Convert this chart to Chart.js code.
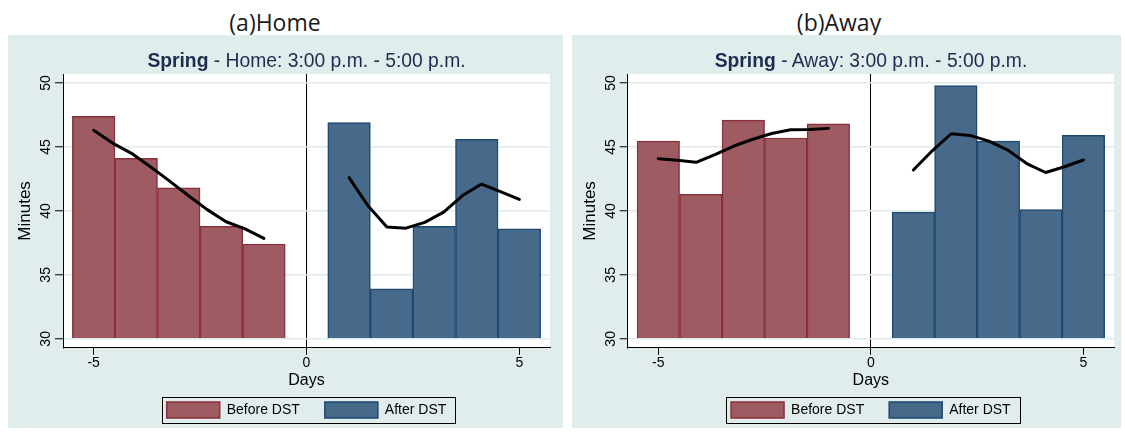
<!DOCTYPE html>
<html><head><meta charset="utf-8">
<script src="https://cdn.jsdelivr.net/npm/chart.js@4/dist/chart.umd.min.js"></script>
<style>
body{margin:0;background:#fff;width:1125px;height:436px;position:relative;overflow:hidden;font-family:"Liberation Sans",Arial,sans-serif}
.panel{position:absolute;top:35px;height:393px;background:#e1eded}
.cap{position:absolute;top:6px;width:200px;text-align:center;font-family:"Open Sans",sans-serif;font-size:23px;line-height:32px;color:#1a1a1a}
.sub{position:absolute;top:49px;width:400px;text-align:center;font-size:19.3px;line-height:24px;color:#1c2d4f;white-space:nowrap}
canvas{position:absolute;left:0;top:0}
</style></head><body>
<div class="cap" style="left:175px">(a)Home</div>
<div class="cap" style="left:739px">(b)Away</div>
<div class="panel" style="left:8px;width:555px"><canvas id="c1" width="555" height="393"></canvas></div>
<div class="panel" style="left:572px;width:549px"><canvas id="c2" width="549" height="393"></canvas></div>
<div class="sub" style="left:106.5px"><b>Spring</b> - Home: 3:00 p.m. - 5:00 p.m.</div>
<div class="sub" style="left:671px"><b>Spring</b> - Away: 3:00 p.m. - 5:00 p.m.</div>
<script>
// ---- data ----
const daysBefore = [-5, -4, -3, -2, -1];
const daysAfter = [1, 2, 3, 4, 5];
const fitDaysBefore = [-5, -4.556, -4.111, -3.667, -3.222, -2.778, -2.333, -1.889, -1.444, -1];
const fitDaysAfter = [1, 1.444, 1.889, 2.333, 2.778, 3.222, 3.667, 4.111, 4.556, 5];

const homeBefore = [47.4, 44.1, 41.8, 38.8, 37.4];
const homeAfter = [46.9, 33.9, 38.8, 45.6, 38.6];
const homeFitBefore = [46.3, 45.3, 44.5, 43.45, 42.35, 41.2, 40.1, 39.15, 38.6, 37.85];
const homeFitAfter = [42.6, 40.4, 38.75, 38.65, 39.1, 39.9, 41.2, 42.1, 41.5, 40.9];

const awayBefore = [45.45, 41.3, 47.1, 45.7, 46.8];
const awayAfter = [39.9, 49.8, 45.45, 40.1, 45.9];
const awayFitBefore = [44.08, 43.95, 43.8, 44.4, 45.07, 45.6, 46.05, 46.34, 46.37, 46.45];
const awayFitAfter = [43.2, 44.7, 46.03, 45.9, 45.45, 44.75, 43.7, 43.0, 43.45, 43.98];

const xTickValues = [-5, 0, 5];
const yTickValues = [30, 35, 40, 45, 50];
const seriesLabels = ['Before DST', 'After DST'];

Chart.defaults.font.family = '"Liberation Sans", Arial, sans-serif';
Chart.defaults.color = '#000';

const panelPlugin = {
  id: 'panelPlugin',
  beforeDraw(chart) {
    const {ctx, chartArea: a} = chart;
    ctx.save();
    ctx.fillStyle = '#ffffff';
    ctx.fillRect(a.left, a.top, a.right - a.left, a.bottom - a.top);
    ctx.restore();
  },
  afterDraw(chart) {
    const hb = chart.legend && chart.legend.legendHitBoxes;
    if (!hb || !hb.length) return;
    const ctx = chart.ctx;
    const f = hb[0], l = hb[hb.length - 1];
    const x0 = Math.round(f.left - 5) + 0.5, x1 = Math.round(l.left + l.width + 9) + 0.5;
    const y0 = Math.round(f.top - 5) + 0.5, y1 = Math.round(f.top + f.height + 5) + 0.5;
    ctx.save();
    ctx.strokeStyle = '#000';
    ctx.lineWidth = 1;
    ctx.strokeRect(x0, y0, x1 - x0, y1 - y0);
    ctx.restore();
  }
};

function pts(xs, ys) { return xs.map((x, i) => ({x: x, y: ys[i]})); }

function makeChart(id, before, after, fitB, fitA, padL, padR) {
  return new Chart(document.getElementById(id), {
    type: 'bar',
    data: {
      datasets: [
        {type: 'line', label: 'fitB', data: pts(fitDaysBefore, fitB), borderColor: '#000', borderWidth: 3,
         pointRadius: 0, tension: 0, borderJoinStyle: 'round', borderCapStyle: 'round', order: 0},
        {type: 'line', label: 'fitA', data: pts(fitDaysAfter, fitA), borderColor: '#000', borderWidth: 3,
         pointRadius: 0, tension: 0, borderJoinStyle: 'round', borderCapStyle: 'round', order: 0},
        {type: 'bar', label: seriesLabels[0], data: pts(daysBefore, before), base: 30, grouped: false,
         barPercentage: 1, categoryPercentage: 1, backgroundColor: '#9e5b61', borderColor: '#8a2f3b', borderWidth: 1.5, order: 1},
        {type: 'bar', label: seriesLabels[1], data: pts(daysAfter, after), base: 30, grouped: false,
         barPercentage: 1, categoryPercentage: 1, backgroundColor: '#476a8a', borderColor: '#1d4870', borderWidth: 1.5, order: 1}
      ]
    },
    options: {
      responsive: false,
      animation: false,
      layout: {padding: {left: padL, right: padR, top: 39, bottom: 0}},
      plugins: {
        tooltip: {enabled: false},
        title: {display: false},
        legend: {
          position: 'bottom', fullSize: false,
          labels: {
            boxWidth: 53, boxHeight: 16, padding: 25, color: '#000',
            font: {size: 14},
            filter: item => seriesLabels.indexOf(item.text) >= 0
          }
        }
      },
      scales: {
        x: {
          type: 'linear', min: -5.72, max: 5.72, bounds: 'data', offset: false,
          afterBuildTicks: s => { s.ticks = xTickValues.map(v => ({value: v})); },
          ticks: {font: {size: 14, lineHeight: 1.0}, padding: 1, color: '#000', maxRotation: 0, minRotation: 0},
          grid: {offset: false, color: c => (c.tick && c.tick.value === 0) ? '#000' : 'rgba(0,0,0,0)', lineWidth: 1,
                 tickColor: '#000', tickLength: 7, tickWidth: 1, drawTicks: true},
          border: {display: true, color: '#000', width: 1},
          title: {display: true, text: 'Days', font: {size: 16}, color: '#000', padding: {top: 0, bottom: -13}}
        },
        y: {
          type: 'linear', min: 29.3, max: 50.7, bounds: 'data',
          afterBuildTicks: s => { s.ticks = yTickValues.map(v => ({value: v})); },
          afterFit: s => { s.width = 52; },
          ticks: {font: {size: 14}, minRotation: 90, maxRotation: 90, crossAlign: 'center', padding: 1, color: '#000'},
          grid: {color: '#dfeaec', lineWidth: 1.5, tickColor: '#000', tickLength: 8, tickWidth: 1},
          border: {display: true, color: '#000', width: 1},
          title: {display: true, text: 'Minutes', font: {size: 17}, color: '#000', padding: {top: 4, bottom: 4}}
        }
      }
    },
    plugins: [panelPlugin]
  });
}

makeChart('c1', homeBefore, homeAfter, homeFitBefore, homeFitAfter, 3, 13);
makeChart('c2', awayBefore, awayAfter, awayFitBefore, awayFitAfter, 3.7, 7);
</script>
</body></html>
